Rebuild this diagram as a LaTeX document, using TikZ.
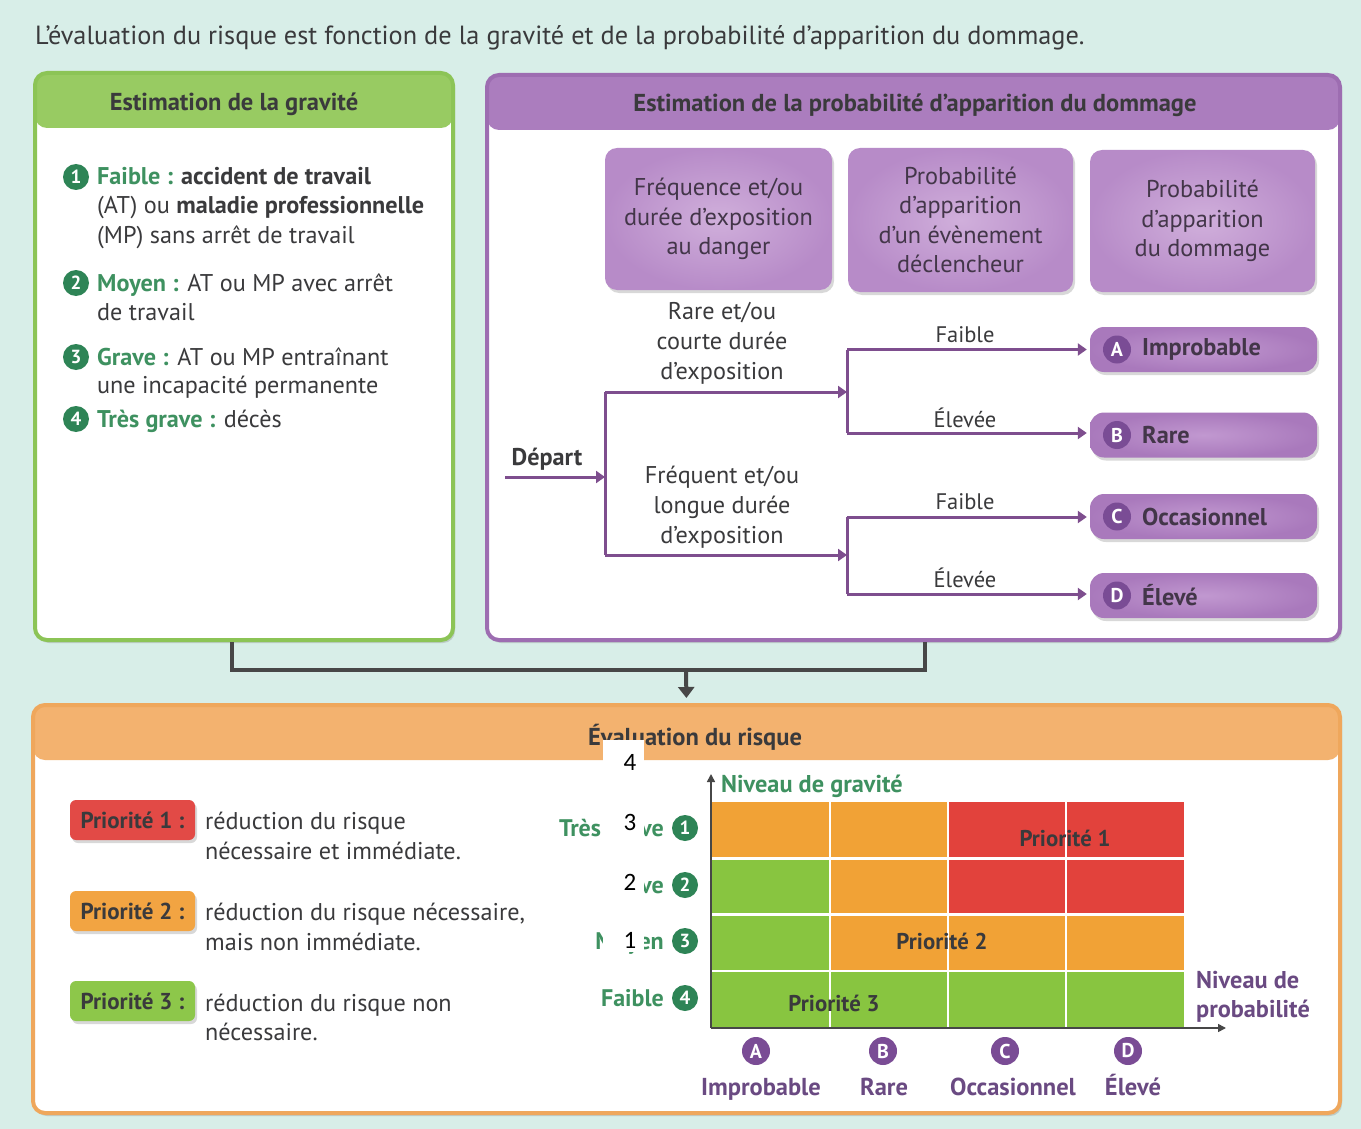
\documentclass[tikz,border=0pt]{standalone}
\usepackage{fontspec}
\setmainfont{PT Sans}
\newfontfamily\carl{Carlito}
\usetikzlibrary{shadows,arrows.meta}
\definecolor{mint}{HTML}{D8EEE8}
\definecolor{ink}{HTML}{3A3A3C}
\definecolor{gborder}{HTML}{8CC456}
\definecolor{ghead}{HTML}{98CB62}
\definecolor{gtext}{HTML}{3E9160}
\definecolor{gnum}{HTML}{2E8456}
\definecolor{pborder}{HTML}{9D6DB1}
\definecolor{phead}{HTML}{AB7DBE}
\definecolor{pbox}{HTML}{B78BC8}
\definecolor{pboxl}{HTML}{D0AFDB}
\definecolor{ppill}{HTML}{A979BC}
\definecolor{ppilll}{HTML}{C198D0}
\definecolor{pline}{HTML}{7E4E8E}
\definecolor{pdark}{HTML}{7A4C95}
\definecolor{ptext}{HTML}{6A4A82}
\definecolor{pink}{HTML}{433649}
\definecolor{oborder}{HTML}{EFA75C}
\definecolor{ohead}{HTML}{F3B26F}
\definecolor{cred}{HTML}{E2423C}
\definecolor{corange}{HTML}{F1A236}
\definecolor{cgreen}{HTML}{88C540}
\definecolor{pred}{HTML}{E24A46}
\definecolor{porange}{HTML}{F2A442}
\definecolor{pgreen}{HTML}{8DC74A}
\definecolor{connc}{HTML}{474747}
\newcommand\fsz[2]{\fontsize{#1}{#2}\selectfont}
\tikzset{
  shad/.style={drop shadow={opacity=0.3, shadow xshift=2pt, shadow yshift=-3pt}},
  panel/.style args={#1/#2/#3}{draw=#1, line width=4pt, fill=white, rounded corners=12pt,
    inner sep=0pt, shad,
    path picture={\fill[#2] (path picture bounding box.north west) rectangle ([yshift=-#3]path picture bounding box.north east);}},
  htitle/.style={font=\bfseries\fsz{24.5}{28}, text=ink, inner sep=0pt},
  body/.style={font=\fsz{24.2}{30}, text=ink, inner sep=0pt},
  bodyb/.style={font=\bfseries\fsz{24.2}{30}, text=ink, inner sep=0pt},
  small/.style={font=\fsz{22.5}{26}, text=ink, inner sep=0pt},
  numc/.style={circle, fill=gnum, text=white, font=\bfseries\fsz{19}{19}, inner sep=0pt, minimum size=26pt},
  letterc/.style={circle, fill=pdark, text=white, font=\bfseries\fsz{20}{20}, inner sep=0pt, minimum size=28pt},
  hbox/.style={rounded corners=12pt, inner color=pboxl, outer color=pbox, shad, text=pink, align=center, font=\fsz{24.3}{29.5}, inner sep=0pt},
  pill/.style={rounded corners=14pt, inner color=ppilll, outer color=ppill, shad, minimum width=227pt, minimum height=45pt, inner sep=0pt},
  pilltxt/.style={font=\bfseries\fsz{24.3}{26}, text=pink, inner sep=0pt},
  flowline/.style={draw=pline, line width=3pt},
  flowarrow/.style={flowline, -{Triangle[width=12pt,length=9pt]}},
  connline/.style={draw=connc, line width=4pt},
  prio/.style={rounded corners=6pt, shad, minimum width=125pt, minimum height=40pt, inner sep=0pt, font=\bfseries\fsz{23}{26}, text=ink},
  celltxt/.style={font=\bfseries\fsz{22.8}{26}, text=ink, inner sep=0pt},
  rowlab/.style={font=\bfseries\fsz{24}{26}, text=gtext, inner sep=0pt, anchor=base east},
  collab/.style={font=\bfseries\fsz{24.5}{28}, text=ptext, inner sep=0pt},
  axlab/.style={font=\bfseries\fsz{24.3}{29}, inner sep=0pt, anchor=base west},
  overnum/.style={font=\carl\fsz{25}{28}, text=black, inner sep=0pt},
}
\begin{document}
\begin{tikzpicture}[x=1pt,y=-1pt]
\useasboundingbox (0,0) rectangle (1361,1129);
\fill[mint] (0,0) rectangle (1361,1129);

% top sentence
\node[font=\fsz{26.3}{30}, text=ink, inner sep=0pt, anchor=base west] (intro) at (35,45)
  {L’évaluation du risque est fonction de la gravité et de la probabilité d’apparition du dommage.};

% ---------- panels ----------
\node[panel={gborder/ghead/55pt}, minimum width=418pt, minimum height=567pt] (grav) at (244,356.5) {};
\node[panel={pborder/phead/55pt}, minimum width=853pt, minimum height=565pt] (prob) at (913.5,357.5) {};

% connector to evaluation
\coordinate (jn) at (686,670);
\draw[connline] ([xshift=-12pt]grav.south) |- (jn);
\draw[connline] ([xshift=11.5pt]prob.south) |- (jn);

\node[panel={oborder/ohead/55pt}, minimum width=1307pt, minimum height=408pt] (eval) at (686.5,909) {};
\draw[connline, -{Triangle[width=16pt,length=11pt]}, shorten >=5pt] (jn) -- (eval.north);

% ---------- gravity panel ----------
\node[htitle, anchor=base] (gravt) at (234,111) {Estimation de la gravité};
\node[numc] (g1) at (76,177) {1};
\node[bodyb, anchor=base west] (g1a) at (97,185) {\textcolor{gtext}{Faible :} accident de travail};
\node[body, anchor=base west] (g1b) at (97,214) {(AT) ou \textbf{maladie professionnelle}};
\node[body, anchor=base west] (g1c) at (97,243) {(MP) sans arrêt de travail};
\node[numc] (g2) at (76,283) {2};
\node[body, anchor=base west] (g2a) at (97,291) {\textcolor{gtext}{\bfseries Moyen :} AT ou MP avec arrêt};
\node[body, anchor=base west] (g2b) at (97,320) {de travail};
\node[numc] (g3) at (76,357) {3};
\node[body, anchor=base west] (g3a) at (97,365) {\textcolor{gtext}{\bfseries Grave :} AT ou MP entraînant};
\node[body, anchor=base west] (g3b) at (97,393) {une incapacité permanente};
\node[numc] (g4) at (76,419) {4};
\node[body, anchor=base west] (g4a) at (97,427) {\textcolor{gtext}{\bfseries Très grave :} décès};

% ---------- probability panel ----------
\node[htitle, anchor=base] (probt) at (915,112) {Estimation de la probabilité d’apparition du dommage};
\node[hbox, minimum width=227pt, minimum height=142pt] (h1) at (718.5,219) {Fréquence et/ou\\durée d’exposition\\au danger};
\node[hbox, minimum width=225pt, minimum height=144pt] (h2) at (960.5,220) {Probabilité\\d’apparition\\d’un évènement\\déclencheur};
\node[hbox, minimum width=225pt, minimum height=142pt] (h3) at (1202.5,221) {Probabilité\\d’apparition\\du dommage};

\node[pill] (pA) at (1203.5,349.5) {};
\node[pill] (pB) at (1203.5,435) {};
\node[pill] (pC) at (1203.5,516.5) {};
\node[pill] (pD) at (1203.5,595.5) {};
\node[letterc] (lA) at (1117,349.5) {A};
\node[letterc] (lB) at (1117,435) {B};
\node[letterc] (lC) at (1117,516.5) {C};
\node[letterc] (lD) at (1117,595.5) {D};
\node[pilltxt, anchor=west] (tA) at (1142,349.5) {Improbable};
\node[pilltxt, anchor=west] (tB) at (1142,435) {Rare};
\node[pilltxt, anchor=west] (tC) at (1142,516.5) {Occasionnel};
\node[pilltxt, anchor=west] (tD) at (1142,595.5) {Élevé};

\coordinate (d0) at (505,477);
\coordinate (s1) at (605,477);
\coordinate (s1t) at (605,392);
\coordinate (s1b) at (605,555);
\coordinate (s2t) at (847,392);
\coordinate (s2a) at (847,349.5);
\coordinate (s2b) at (847,433);
\coordinate (s3t) at (847,555);
\coordinate (s3a) at (847,517);
\coordinate (s3b) at (847,594);
\draw[flowarrow] (d0) -- (s1);
\draw[flowline] (s1t) -- (s1b);
\draw[flowarrow] (s1t) -- (s2t);
\draw[flowarrow] (s1b) -- (s3t);
\draw[flowline] (s2a) -- (s2b);
\draw[flowline] (s3a) -- (s3b);
\draw[flowarrow, shorten >=3pt] (s2a) -- (pA.west |- s2a);
\draw[flowarrow, shorten >=3pt] (s2b) -- (pB.west |- s2b);
\draw[flowarrow, shorten >=3pt] (s3a) -- (pC.west |- s3a);
\draw[flowarrow, shorten >=3pt] (s3b) -- (pD.west |- s3b);

\node[bodyb, anchor=base] (ldep) at (547,465) {Départ};
\node[body, align=center] (lrare) at (722,343) {Rare et/ou\\courte durée\\d’exposition};
\node[body, align=center] (lfreq) at (722,507) {Fréquent et/ou\\longue durée\\d’exposition};
\node[small, anchor=base] (f1) at (965,342) {Faible};
\node[small, anchor=base] (e1) at (965,427) {Élevée};
\node[small, anchor=base] (f2) at (965,509) {Faible};
\node[small, anchor=base] (e2) at (965,587) {Élevée};

% ---------- evaluation panel ----------
\node[htitle, anchor=base] (evalt) at (695,745) {Évaluation du risque};

\node[prio, fill=pred] (p1) at (132.5,820) {Priorité 1 :};
\node[prio, fill=porange] (p2) at (132.5,911) {Priorité 2 :};
\node[prio, fill=pgreen] (p3) at (132.5,1001) {Priorité 3 :};
\node[body, anchor=base west] (p1a) at (205,829) {réduction du risque};
\node[body, anchor=base west] (p1b) at (205,859) {nécessaire et immédiate.};
\node[body, anchor=base west] (p2a) at (205,920) {réduction du risque nécessaire,};
\node[body, anchor=base west] (p2b) at (205,950) {mais non immédiate.};
\node[body, anchor=base west] (p3a) at (205,1011) {réduction du risque non};
\node[body, anchor=base west] (p3b) at (205,1040) {nécessaire.};

% matrix
\foreach \i/\j/\cc in {0/0/corange,1/0/corange,2/0/cred,3/0/cred,
                       0/1/cgreen,1/1/corange,2/1/cred,3/1/cred,
                       0/2/cgreen,1/2/corange,2/2/corange,3/2/corange,
                       0/3/cgreen,1/3/cgreen,2/3/cgreen,3/3/cgreen}
  \fill[\cc] ({712+118*\i},{802+56.25*\j}) rectangle ({712+118*(\i+1)},{802+56.25*(\j+1)});
\foreach \k in {1,2,3} {
  \draw[white, line width=2.5pt] ({712+118*\k},802) -- ({712+118*\k},1027);
  \draw[white, line width=2.5pt] (712,{802+56.25*\k}) -- (1184,{802+56.25*\k});
}
\node[celltxt] (m1) at (1065,838) {Priorité 1};
\node[celltxt] (m2) at (942,941) {Priorité 2};
\node[celltxt] (m3) at (834,1003) {Priorité 3};

% axes
\coordinate (o) at (711,1028);
\coordinate (ytop) at (711,774);
\coordinate (xend) at (1226,1028);
\draw[connc, line width=1.6pt, -{Triangle[width=8pt,length=8pt]}] (o) -- (ytop);
\draw[connc, line width=1.6pt, -{Triangle[width=8pt,length=8pt]}] (o) -- (xend);
\node[axlab, text=gtext] (ay) at (721,792) {Niveau de gravité};
\node[axlab, text=ptext] (ax1) at (1196,988) {Niveau de};
\node[axlab, text=ptext] (ax2) at (1196,1017) {probabilité};

% row labels
\node[rowlab] (r1) at (664,836) {Très grave};
\node[rowlab] (r2) at (664,893) {Grave};
\node[rowlab] (r3) at (664,949) {Moyen};
\node[rowlab] (r4) at (664,1006) {Faible};
\node[numc] (rn1) at (685,828) {1};
\node[numc] (rn2) at (685,885) {2};
\node[numc] (rn3) at (685,941) {3};
\node[numc] (rn4) at (685,998) {4};

% column labels
\node[letterc] (ca) at (756,1051) {A};
\node[letterc] (cb) at (883,1051) {B};
\node[letterc] (cc) at (1005,1051) {C};
\node[letterc] (cd) at (1128,1051) {D};
\node[collab, anchor=base] (na) at (761,1095) {Improbable};
\node[collab, anchor=base] (nb) at (884,1095) {Rare};
\node[collab, anchor=base] (nc) at (1013,1095) {Occasionnel};
\node[collab, anchor=base] (nd) at (1133,1095) {Élevé};

% white overlay with numbers
\fill[white] (603,740) rectangle (644,952);
\node[overnum] (o4) at (630,762) {4};
\node[overnum] (o3) at (630,822) {3};
\node[overnum] (o2) at (630,882) {2};
\node[overnum] (o1) at (630,940) {1};
\end{tikzpicture}
\end{document}
